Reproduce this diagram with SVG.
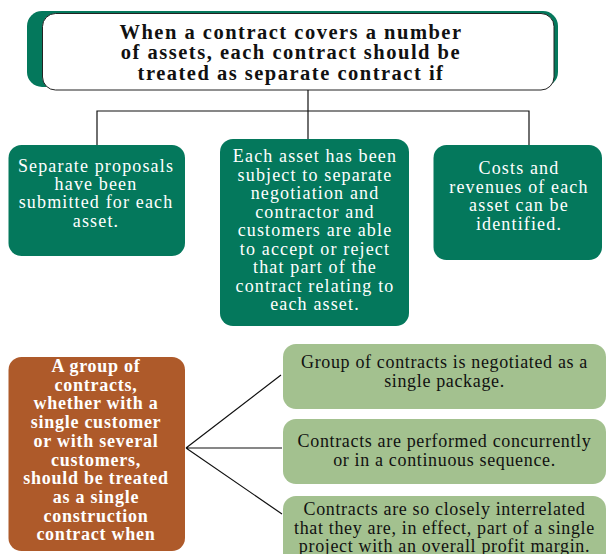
<svg xmlns="http://www.w3.org/2000/svg" width="610" height="554" viewBox="0 0 610 554">
<style>
.dg{fill:#04785c}
.br{fill:#ae5a2a}
.lg{fill:#a3c18f}
.t{font-family:"Liberation Serif",serif;text-anchor:middle}
.w{fill:#ffffff;font-size:18px;letter-spacing:1.15px}
.wb{fill:#ffffff;font-size:18px;font-weight:bold;letter-spacing:0.75px}
.k{fill:#111111;font-size:18px;letter-spacing:0.65px}
.title{fill:#111111;font-size:20.5px;font-weight:bold;letter-spacing:1.5px}
.c{stroke:#111111;stroke-width:1.2;fill:none}
</style>
<rect width="610" height="554" fill="#ffffff"/>
<g id="title">
<rect class="dg" x="27" y="11" width="531" height="76" rx="15"/>
<rect x="42.5" y="13.5" width="511.5" height="76.5" rx="13" fill="#ffffff" stroke="#222222" stroke-width="1"/>
<text class="t title"><tspan x="291" y="38.8">When a contract covers a number</tspan><tspan x="291" y="59.2">of assets, each contract should be</tspan><tspan x="291" y="79.6">treated as separate contract  if</tspan></text>
</g>
<g id="connectors">
<path class="c" d="M308 90V111M97 147V111H529V146M308 111V139"/>
<path class="c" d="M186 448L281 375M186 448H282M186 448L282 514"/>
</g>
<g id="box-proposals">
<rect class="dg" x="8.5" y="145" width="176.5" height="111" rx="13"/>
<text class="t w"><tspan x="96" y="171.7">Separate proposals</tspan><tspan x="96" y="190">have been</tspan><tspan x="96" y="208.4">submitted for each</tspan><tspan x="96" y="226.8">asset.</tspan></text>
</g>
<g id="box-negotiation">
<rect class="dg" x="220" y="139" width="189" height="187" rx="13"/>
<text class="t w"><tspan x="315" y="162">Each asset has been</tspan><tspan x="315" y="180.5">subject to separate</tspan><tspan x="315" y="199">negotiation and</tspan><tspan x="315" y="217.5">contractor and</tspan><tspan x="315" y="236">customers are able</tspan><tspan x="315" y="254.5">to accept or reject</tspan><tspan x="315" y="273">that part of the</tspan><tspan x="315" y="291.5">contract relating to</tspan><tspan x="315" y="310">each asset.</tspan></text>
</g>
<g id="box-costs">
<rect class="dg" x="433.5" y="145" width="168.5" height="115" rx="13"/>
<text class="t w"><tspan x="519" y="174">Costs and</tspan><tspan x="519" y="192.5">revenues of each</tspan><tspan x="519" y="211">asset can be</tspan><tspan x="519" y="229.5">identified.</tspan></text>
</g>
<g id="box-group">
<rect class="br" x="8.5" y="357" width="176.5" height="194" rx="13"/>
<text class="t wb"><tspan x="96" y="372">A group of</tspan><tspan x="96" y="390.7">contracts,</tspan><tspan x="96" y="409.4">whether with a</tspan><tspan x="96" y="428.1">single customer</tspan><tspan x="96" y="446.8">or with several</tspan><tspan x="96" y="465.5">customers,</tspan><tspan x="96" y="484.2">should be treated</tspan><tspan x="96" y="502.9">as a single</tspan><tspan x="96" y="521.6">construction</tspan><tspan x="96" y="540.3">contract when</tspan></text>
</g>
<g id="box-package">
<rect class="lg" x="283" y="344" width="323" height="65" rx="13"/>
<text class="t k"><tspan x="444.5" y="368">Group of contracts is negotiated as a</tspan><tspan x="444.5" y="387">single package.</tspan></text>
</g>
<g id="box-concurrent">
<rect class="lg" x="283" y="419" width="323" height="65" rx="13"/>
<text class="t k"><tspan x="444.5" y="447">Contracts are performed concurrently</tspan><tspan x="444.5" y="466">or in a continuous sequence.</tspan></text>
</g>
<g id="box-interrelated">
<rect class="lg" x="283" y="496" width="323" height="75" rx="13"/>
<text class="t k"><tspan x="444.5" y="515">Contracts are so closely interrelated</tspan><tspan x="444.5" y="533.5">that they are, in effect, part of a single</tspan><tspan x="444.5" y="552">project with an overall profit margin.</tspan></text>
</g>
</svg>
